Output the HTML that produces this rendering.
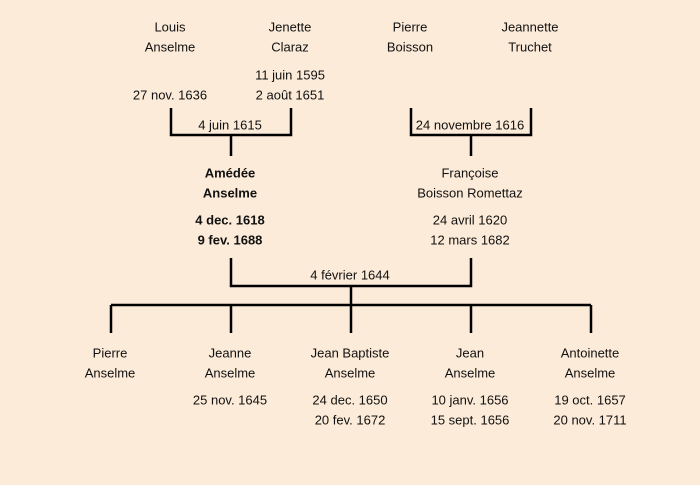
<!DOCTYPE html>
<html><head><meta charset="utf-8"><style>
html,body{margin:0;padding:0;background:#fcebd8;}
svg{display:block}
text{font-family:"Liberation Sans","DejaVu Sans",sans-serif;font-size:13px;fill:#111;text-anchor:middle;dominant-baseline:central}
.b{font-weight:bold}
</style></head><body>
<svg width="700" height="485" viewBox="0 0 700 485">
<rect width="700" height="485" fill="#fcebd8"/>
<g stroke="#000" stroke-width="2.5" fill="none">
<polyline points="171,108 171,135 291,135 291,108"/>
<line x1="231" y1="135" x2="231" y2="156"/>
<polyline points="411,108 411,135 531,135 531,108"/>
<line x1="471" y1="135" x2="471" y2="156"/>
<polyline points="231,258 231,286 471,286 471,258"/>
<line x1="351" y1="286" x2="351" y2="305"/>
<line x1="111" y1="305" x2="591" y2="305"/>
<line x1="111" y1="305" x2="111" y2="333"/>
<line x1="231" y1="305" x2="231" y2="333"/>
<line x1="351" y1="305" x2="351" y2="333"/>
<line x1="471" y1="305" x2="471" y2="333"/>
<line x1="591" y1="305" x2="591" y2="333"/>
</g>
<text x="170" y="27">Louis</text><text x="170" y="47">Anselme</text>
<text x="170" y="95">27 nov. 1636</text>
<text x="290" y="27">Jenette</text><text x="290" y="47">Claraz</text>
<text x="290" y="75">11 juin 1595</text><text x="290" y="95">2 août 1651</text>
<text x="410" y="27">Pierre</text><text x="410" y="47">Boisson</text>
<text x="530" y="27">Jeannette</text><text x="530" y="47">Truchet</text>
<text x="230" y="125">4 juin 1615</text>
<text x="470" y="125">24 novembre 1616</text>
<text class="b" x="230" y="173">Amédée</text><text class="b" x="230" y="193">Anselme</text>
<text class="b" x="230" y="220">4 dec. 1618</text><text class="b" x="230" y="240">9 fev. 1688</text>
<text x="470" y="173">Françoise</text><text x="470" y="193">Boisson Romettaz</text>
<text x="470" y="220">24 avril 1620</text><text x="470" y="240">12 mars 1682</text>
<text x="350" y="275">4 février 1644</text>
<text x="110" y="353">Pierre</text><text x="110" y="373">Anselme</text>
<text x="230" y="353">Jeanne</text><text x="230" y="373">Anselme</text>
<text x="230" y="400">25 nov. 1645</text>
<text x="350" y="353">Jean Baptiste</text><text x="350" y="373">Anselme</text>
<text x="350" y="400">24 dec. 1650</text><text x="350" y="420">20 fev. 1672</text>
<text x="470" y="353">Jean</text><text x="470" y="373">Anselme</text>
<text x="470" y="400">10 janv. 1656</text><text x="470" y="420">15 sept. 1656</text>
<text x="590" y="353">Antoinette</text><text x="590" y="373">Anselme</text>
<text x="590" y="400">19 oct. 1657</text><text x="590" y="420">20 nov. 1711</text>
</svg>
</body></html>
